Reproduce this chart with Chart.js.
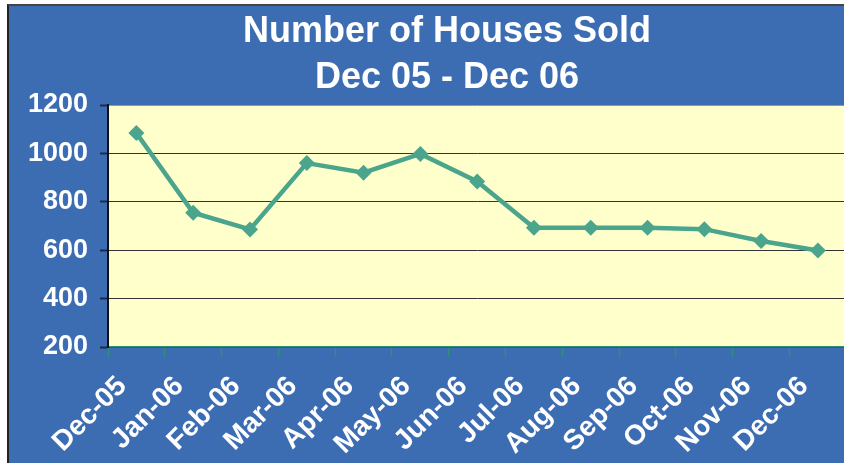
<!DOCTYPE html>
<html>
<head>
<meta charset="utf-8">
<script src="https://cdn.jsdelivr.net/npm/chart.js@4"></script>
<style>
  html, body { margin: 0; padding: 0; background: #fff; overflow: hidden; }
  #frame {
    position: absolute; left: 7px; top: 4px;
    width: 900px; height: 500px;
    border-left: 2px solid #222; border-top: 2px solid #444;
    background: #3c6db3;
  }
  #chart { display: block; }
</style>
</head>
<body>
<div id="frame"><canvas id="chart" width="846" height="457"></canvas></div>
<script>
// data
const months = ['Dec-05', 'Jan-06', 'Feb-06', 'Mar-06', 'Apr-06', 'May-06', 'Jun-06',
                'Jul-06', 'Aug-06', 'Sep-06', 'Oct-06', 'Nov-06', 'Dec-06'];
const housesSold = [1084, 755, 686, 960, 920, 998, 884, 693, 693, 693, 687, 638, 599];
const yTicks = [200, 400, 600, 800, 1000, 1200];
const titleLines = ['Number of Houses Sold', 'Dec 05 - Dec 06'];

const FONT = '"Liberation Sans", Arial, sans-serif';

// yellow plot background
const plotBg = {
    id: 'plotBg',
    beforeDraw(chart) {
        const { ctx, chartArea: a } = chart;
        ctx.save();
        ctx.fillStyle = '#ffffcc';
        ctx.fillRect(a.left, a.top, a.right - a.left, a.bottom - a.top);
        ctx.restore();
    }
};

// two line title, centred a bit right of the canvas middle like the original
const chartTitle = {
    id: 'chartTitle',
    afterDraw(chart) {
        const ctx = chart.ctx;
        ctx.save();
        ctx.fillStyle = '#ffffff';
        ctx.font = 'bold 36px ' + FONT;
        ctx.textAlign = 'center';
        ctx.textBaseline = 'alphabetic';
        titleLines.forEach((line, i) => ctx.fillText(line, 438, 36 + i * 46));
        ctx.restore();
    }
};

new Chart(document.getElementById('chart'), {
    type: 'line',
    data: {
        labels: months,
        datasets: [{
            data: housesSold,
            borderColor: '#4aa58c',
            backgroundColor: '#4aa58c',
            borderWidth: 4.5,
            pointStyle: 'rectRot',
            pointRadius: 8,
            pointBorderWidth: 0,
            tension: 0,
            fill: false
        }]
    },
    options: {
        responsive: false,
        animation: false,
        devicePixelRatio: 1,
        layout: { padding: { top: 99 } },
        plugins: {
            legend: { display: false },
            tooltip: { enabled: false },
            title: { display: false }
        },
        scales: {
            x: {
                offset: true,
                afterFit: s => { s.height = 116; },
                border: { color: '#2f8f7c', width: 1.5 },
                grid: {
                    offset: true,
                    drawOnChartArea: false,
                    drawTicks: true,
                    tickLength: 10,
                    tickColor: '#2f8f7c',
                    tickWidth: 1.5
                },
                ticks: {
                    color: '#ffffff',
                    minRotation: 45,
                    maxRotation: 45,
                    autoSkip: false,
                    labelOffset: -14,
                    padding: 13,
                    font: { family: FONT, size: 28, weight: 'bold' }
                }
            },
            y: {
                min: 200,
                max: 1200,
                afterFit: s => { s.width = 99; },
                afterBuildTicks: s => { s.ticks = yTicks.map(v => ({ value: v })); },
                border: { color: '#111111', width: 2 },
                grid: {
                    color: c => c.tick.value === 1200 ? '#9a9a8a' : '#333333',
                    lineWidth: 1,
                    drawTicks: true,
                    tickLength: 8,
                    tickColor: '#1c2b4a',
                    tickWidth: 2
                },
                ticks: {
                    color: '#ffffff',
                    padding: 12,
                    callback: v => String(v),
                    font: { family: FONT, size: 27, weight: 'bold' }
                }
            }
        }
    },
    plugins: [plotBg, chartTitle]
});
</script>
</body>
</html>
